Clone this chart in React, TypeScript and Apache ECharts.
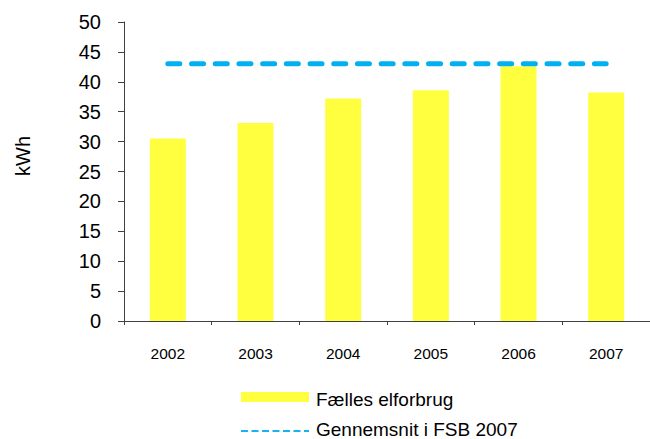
import React, { useEffect, useRef } from "react";
import * as echarts from "echarts";

const years = ["2002", "2003", "2004", "2005", "2006", "2007"];
const faellesElforbrug = [30.5, 33.1, 37.2, 38.6, 42.6, 38.2];
const gennemsnitFSB = [43, 43, 43, 43, 43, 43];
const yTicks = { min: 0, max: 50, interval: 5 };
const seriesNames = ["Fælles elforbrug", "Gennemsnit i FSB 2007"];
const yAxisTitle = "kWh";

const FONT = 'Arial, "Liberation Sans", sans-serif';
const YELLOW = "#FFFF40";
const BLUE = "#00B0F0";

export default function App() {
  const ref = useRef<HTMLDivElement>(null);
  useEffect(() => {
    if (!ref.current) return;
    document.body.style.margin = "0";
    const chart = echarts.init(ref.current, undefined, { renderer: "svg" });
    chart.setOption({
      animation: false,
      backgroundColor: "#ffffff",
      textStyle: { fontFamily: FONT },
      grid: { left: 124, top: 22, width: 534, height: 299, containLabel: false },
      xAxis: {
        type: "category",
        data: years,
        boundaryGap: true,
        axisLine: { show: true, lineStyle: { color: "#404040", width: 1 } },
        axisTick: { show: true, length: 4, lineStyle: { color: "#404040" } },
        axisLabel: { color: "#000", fontSize: 15.5, margin: 24, fontFamily: FONT },
        splitLine: { show: false },
      },
      yAxis: {
        type: "value",
        min: yTicks.min,
        max: yTicks.max,
        interval: yTicks.interval,
        axisLine: { show: true, lineStyle: { color: "#404040", width: 1 } },
        axisTick: { show: true, length: 6, lineStyle: { color: "#404040" } },
        axisLabel: { color: "#000", fontSize: 20, margin: 23, fontFamily: FONT },
        splitLine: { show: false },
      },
      legend: { show: false, data: seriesNames },
      graphic: [
        {
          type: "text",
          x: 23,
          y: 156,
          rotation: Math.PI / 2,
          style: {
            text: yAxisTitle,
            fontSize: 20,
            fontFamily: FONT,
            fill: "#000",
            align: "center",
            verticalAlign: "middle",
          },
        },
        {
          type: "rect",
          shape: { x: 241, y: 392, width: 68, height: 10 },
          style: { fill: YELLOW },
        },
        {
          type: "text",
          x: 316,
          y: 399.5,
          style: {
            text: seriesNames[0],
            fontSize: 19,
            fontFamily: FONT,
            fill: "#000",
            align: "left",
            verticalAlign: "middle",
          },
        },
        {
          type: "line",
          shape: { x1: 241, y1: 431, x2: 309, y2: 431 },
          style: { stroke: "#1AB2F0", lineWidth: 2, lineDash: [7, 3.5] },
        },
        {
          type: "text",
          x: 316,
          y: 429,
          style: {
            text: seriesNames[1],
            fontSize: 19,
            fontFamily: FONT,
            fill: "#000",
            align: "left",
            verticalAlign: "middle",
          },
        },
      ],
      series: [
        {
          name: seriesNames[0],
          type: "bar",
          data: faellesElforbrug,
          barWidth: 36,
          itemStyle: { color: YELLOW },
        },
        {
          name: seriesNames[1],
          type: "line",
          data: gennemsnitFSB,
          symbol: "none",
          showSymbol: false,
          lineStyle: { color: BLUE, width: 5, type: [12, 11.7], cap: "round" },
        },
      ],
    });
    return () => chart.dispose();
  }, []);
  return <div ref={ref} style={{ width: 650, height: 439 }} />;
}
